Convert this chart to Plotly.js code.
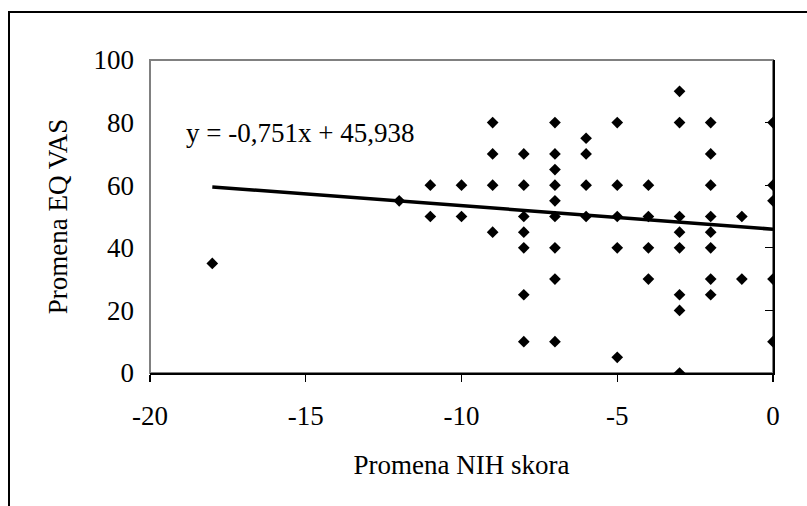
<!DOCTYPE html>
<html>
<head>
<meta charset="utf-8">
<script src="https://cdn.plot.ly/plotly-3.0.1.min.js"></script>
<style>
  html, body { margin: 0; padding: 0; background: #fff; }
  #wrap { position: relative; width: 807px; height: 506px; overflow: hidden; }
  #chart { position: absolute; left: 0; top: 0; width: 807px; height: 506px; }
  #frame { position: absolute; left: 8px; top: 11px; width: 820px; height: 520px;
           border-left: 2px solid #000; border-top: 2px solid #000; pointer-events: none; }
</style>
</head>
<body>
<div id="wrap">
  <div id="chart"></div>
  <div id="frame"></div>
</div>
<script>
// Change in NIH score (x) and change in EQ VAS (y)
const nihChange = [
  -18,
  -12,
  -11, -11,
  -10, -10,
  -9, -9, -9, -9,
  -8, -8, -8, -8, -8, -8, -8,
  -7, -7, -7, -7, -7, -7, -7, -7, -7,
  -6, -6, -6, -6,
  -5, -5, -5, -5, -5,
  -4, -4, -4, -4,
  -3, -3, -3, -3, -3, -3, -3, -3,
  -2, -2, -2, -2, -2, -2, -2, -2,
  -1, -1,
  0, 0, 0, 0, 0
];
const eqVasChange = [
  35,
  55,
  60, 50,
  60, 50,
  80, 70, 60, 45,
  70, 60, 50, 45, 40, 25, 10,
  80, 70, 65, 60, 55, 50, 40, 30, 10,
  75, 70, 60, 50,
  80, 60, 50, 40, 5,
  60, 50, 40, 30,
  90, 80, 50, 45, 40, 25, 20, 0,
  80, 70, 60, 50, 45, 40, 30, 25,
  50, 30,
  80, 60, 55, 30, 10
];
const trendSlope = -0.751;
const trendIntercept = 45.938;
const trendLabel = "y = -0,751x + 45,938";
const xTickVals = [-20, -15, -10, -5, 0];
const yTickVals = [0, 20, 40, 60, 80, 100];

const xMin = Math.min(...nihChange), xMax = Math.max(...nihChange);
const trendX = [xMin, xMax];
const trendY = trendX.map(v => trendSlope * v + trendIntercept);

const font = "Liberation Serif, Times New Roman, serif";
const fs = 27;

const traces = [
  {
    x: nihChange, y: eqVasChange, type: "scatter", mode: "markers",
    marker: { symbol: "diamond", size: 9, color: "#000" },
    hoverinfo: "x+y", showlegend: false
  },
  {
    x: trendX, y: trendY, type: "scatter", mode: "lines",
    line: { color: "#000", width: 3.5 }, showlegend: false, hoverinfo: "skip"
  },
  {
    x: [], y: [], type: "scatter", yaxis: "y2", showlegend: false
  }
];

const layout = {
  width: 807, height: 506,
  margin: { l: 150, r: 34, t: 60, b: 133 },
  paper_bgcolor: "#fff", plot_bgcolor: "#fff",
  font: { family: font, size: fs, color: "#000" },
  xaxis: {
    range: [-20, 0], tickvals: xTickVals, ticktext: xTickVals.map(String),
    showgrid: false, zeroline: false,
    showline: true, linecolor: "#000", linewidth: 1.5,
    ticks: "outside", ticklen: 7, tickwidth: 1.2, tickcolor: "#000",
    ticklabelstandoff: 11,
    tickfont: { family: font, size: fs },
    title: { text: "Promena NIH skora", font: { family: font, size: fs }, standoff: 25 }
  },
  yaxis: {
    range: [0, 100], tickvals: yTickVals, ticktext: yTickVals.map(String),
    showgrid: false, zeroline: false, showline: false, ticks: "",
    ticklabelstandoff: 15,
    tickfont: { family: font, size: fs },
    title: { text: "Promena EQ VAS", font: { family: font, size: fs }, standoff: 18 }
  },
  yaxis2: {
    overlaying: "y", side: "right", range: [0, 100], tickvals: yTickVals,
    showticklabels: false, showgrid: false, zeroline: false,
    showline: true, linecolor: "#000", linewidth: 1.5,
    ticks: "inside", ticklen: 8, tickwidth: 1.2, tickcolor: "#000"
  },
  shapes: [
    { type: "rect", xref: "paper", yref: "paper", x0: 0, x1: 1, y0: 0, y1: 1,
      line: { color: "#808080", width: 2 }, layer: "below" }
  ],
  annotations: [
    { xref: "paper", yref: "paper", x: (184 - 150) / 623, y: (373 - 133) / 313,
      xanchor: "left", yanchor: "middle", text: trendLabel, showarrow: false,
      font: { family: font, size: fs, color: "#000" } }
  ]
};

Plotly.newPlot("chart", traces, layout, { staticPlot: true, displayModeBar: false });
</script>
</body>
</html>
